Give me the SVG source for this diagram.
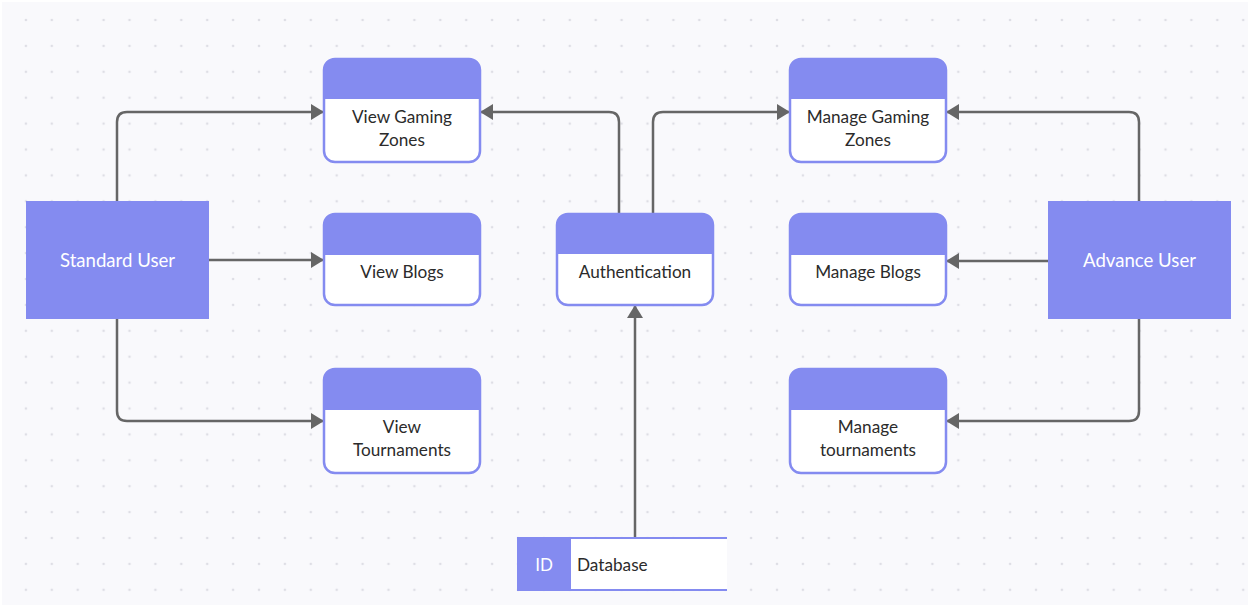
<svg xmlns="http://www.w3.org/2000/svg" width="1250" height="608" viewBox="0 0 1250 608">
<defs>
<pattern id="dots" x="0" y="20" width="25.9" height="25.9" patternUnits="userSpaceOnUse">
<circle cx="0" cy="0" r="1.3" fill="#dedee5"/><circle cx="25.9" cy="0" r="1.3" fill="#dedee5"/><circle cx="0" cy="25.9" r="1.3" fill="#dedee5"/><circle cx="25.9" cy="25.9" r="1.3" fill="#dedee5"/>
</pattern>
<marker id="arr" markerUnits="userSpaceOnUse" markerWidth="14" markerHeight="16" refX="13" refY="8" orient="auto">
<path d="M0,0 L13,8 L0,16 Z" fill="#666666"/>
</marker>
</defs>
<style>
.card{fill:#ffffff;stroke:#848bf0;stroke-width:2.5}
.head{fill:#848bf0}
.actor{fill:#848bf0}
.t{font-family:Lato,"Noto Sans","Liberation Sans",sans-serif;font-size:17.2px;fill:#2b2b2b;text-anchor:middle}
.w{font-family:Lato,"Noto Sans","Liberation Sans",sans-serif;font-size:18.6px;fill:#ffffff;text-anchor:middle}
.c{fill:none;stroke:#666666;stroke-width:2.5;marker-end:url(#arr)}
</style>
<rect x="0" y="0" width="1250" height="608" fill="#ffffff"/>
<rect x="2" y="2" width="1246" height="603" fill="#f9f9fc"/>
<rect x="2" y="2" width="1246" height="603" fill="url(#dots)"/>

<g id="connectors">
<path class="c" d="M117,201 V122 Q117,112 127,112 H324"/>
<path class="c" d="M209,260 H324"/>
<path class="c" d="M117,319 V411 Q117,421 127,421 H324"/>
<path class="c" d="M619,214 V122 Q619,112 609,112 H480"/>
<path class="c" d="M653,214 V122 Q653,112 663,112 H790"/>
<path class="c" d="M635,537 V305"/>
<path class="c" d="M1139,201 V122 Q1139,112 1129,112 H946"/>
<path class="c" d="M1048,261 H946"/>
<path class="c" d="M1139,319 V411 Q1139,421 1129,421 H946"/>
</g>

<g id="standard-user">
<rect class="actor" x="26" y="201" width="183" height="118"/>
<text class="w" x="117.5" y="266.5">Standard User</text>
</g>

<g id="advance-user">
<rect class="actor" x="1048" y="201" width="183" height="118"/>
<text class="w" x="1139.5" y="266.5">Advance User</text>
</g>

<g id="view-gaming-zones">
<rect class="card" x="324" y="59" width="156" height="103" rx="11"/>
<path class="head" d="M324,99 V70 Q324,59 335,59 H469 Q480,59 480,70 V99 Z"/>
<text class="t" x="402" y="123">View Gaming</text>
<text class="t" x="402" y="146">Zones</text>
</g>

<g id="view-blogs">
<rect class="card" x="324" y="214" width="156" height="91" rx="11"/>
<path class="head" d="M324,255 V225 Q324,214 335,214 H469 Q480,214 480,225 V255 Z"/>
<text class="t" x="402" y="278">View Blogs</text>
</g>

<g id="view-tournaments">
<rect class="card" x="324" y="369" width="156" height="104" rx="11"/>
<path class="head" d="M324,410 V380 Q324,369 335,369 H469 Q480,369 480,380 V410 Z"/>
<text class="t" x="402" y="433">View</text>
<text class="t" x="402" y="456">Tournaments</text>
</g>

<g id="authentication">
<rect class="card" x="557" y="214" width="156" height="91" rx="11"/>
<path class="head" d="M557,254 V225 Q557,214 568,214 H702 Q713,214 713,225 V254 Z"/>
<text class="t" x="635" y="278">Authentication</text>
</g>

<g id="manage-gaming-zones">
<rect class="card" x="790" y="59" width="156" height="103" rx="11"/>
<path class="head" d="M790,99 V70 Q790,59 801,59 H935 Q946,59 946,70 V99 Z"/>
<text class="t" x="868" y="123">Manage Gaming</text>
<text class="t" x="868" y="146">Zones</text>
</g>

<g id="manage-blogs">
<rect class="card" x="790" y="214" width="156" height="91" rx="11"/>
<path class="head" d="M790,255 V225 Q790,214 801,214 H935 Q946,214 946,225 V255 Z"/>
<text class="t" x="868" y="278">Manage Blogs</text>
</g>

<g id="manage-tournaments">
<rect class="card" x="790" y="369" width="156" height="104" rx="11"/>
<path class="head" d="M790,410 V380 Q790,369 801,369 H935 Q946,369 946,380 V410 Z"/>
<text class="t" x="868" y="433">Manage</text>
<text class="t" x="868" y="456">tournaments</text>
</g>

<g id="database">
<rect x="571" y="537" width="156" height="54" fill="#ffffff"/>
<line x1="571" y1="538" x2="727" y2="538" stroke="#848bf0" stroke-width="2"/>
<line x1="571" y1="590" x2="727" y2="590" stroke="#848bf0" stroke-width="2"/>
<rect class="actor" x="517" y="537" width="54" height="54"/>
<text class="w" x="544" y="571" style="font-size:17px">ID</text>
<text class="t" x="577" y="571" style="text-anchor:start">Database</text>
</g>
</svg>
